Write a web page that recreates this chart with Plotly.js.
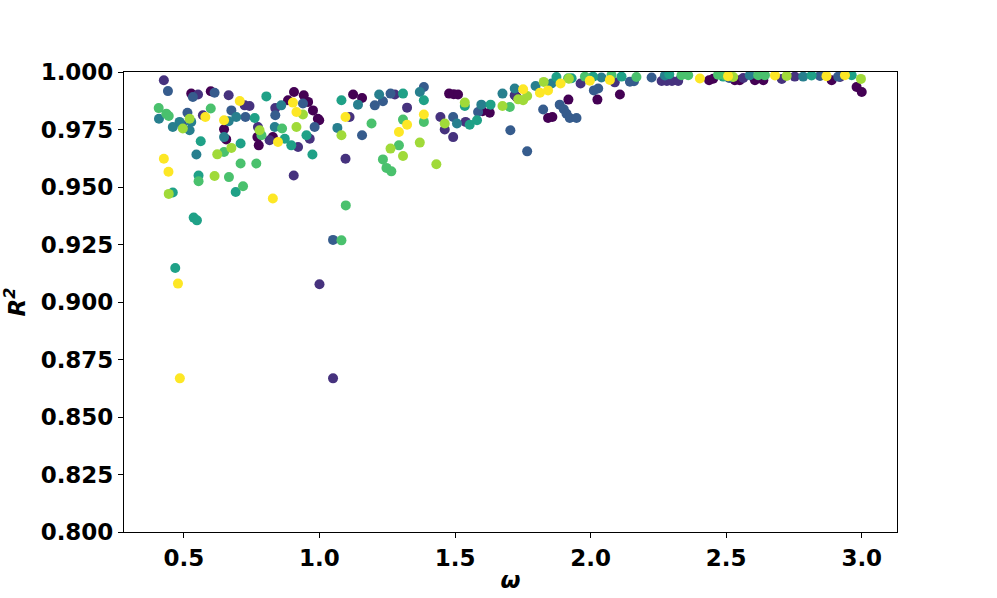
<!DOCTYPE html>
<html>
<head>
<meta charset="utf-8">
<script src="https://cdn.plot.ly/plotly-3.0.1.min.js"></script>
<style>
  html, body { margin: 0; padding: 0; background: #fff; }
  #chart { width: 997px; height: 598px; }
</style>
</head>
<body>
<div id="chart"></div>
<script>
// omega / R^2 pairs, one pair of arrays per colour group (viridis 0..7)
const omega0 = [0.527, 0.599, 0.906, 0.942, 0.884, 0.958, 0.976, 0.994, 0.999, 0.828, 0.771, 0.776, 0.648, 0.656, 1.124, 1.157, 1.478, 1.495, 1.511, 1.601, 1.628, 1.727, 1.843, 1.859, 1.918, 2.025, 2.108, 2.437, 2.452, 2.532, 2.550, 2.606, 2.637, 2.889, 2.981, 3.000];
const r2_0   = [0.9906, 0.9916, 0.9913, 0.9899, 0.9877, 0.9870, 0.9833, 0.9797, 0.9790, 0.9717, 0.9717, 0.9681, 0.9751, 0.9707, 0.9902, 0.9887, 0.9906, 0.9903, 0.9902, 0.9829, 0.9823, 0.9891, 0.9800, 0.9804, 0.9880, 0.9880, 0.9902, 0.9964, 0.9971, 0.9964, 0.9964, 0.9964, 0.9964, 0.9964, 0.9935, 0.9913];

const omega1 = [0.426, 0.552, 0.665, 0.724, 0.742, 0.964, 0.921, 0.816, 0.837, 0.773, 0.570, 0.905, 1.000, 1.050, 1.096, 1.111, 1.278, 1.323, 1.446, 1.462, 1.493, 1.539, 1.720, 1.963, 2.089, 2.262, 2.281, 2.300, 2.323, 2.563, 2.705, 2.753, 2.920];
const r2_1   = [0.9964, 0.9902, 0.9899, 0.9855, 0.9852, 0.9710, 0.9674, 0.9703, 0.9843, 0.9761, 0.9812, 0.9550, 0.9077, 0.8668, 0.9623, 0.9804, 0.9902, 0.9845, 0.9804, 0.9750, 0.9717, 0.9783, 0.9899, 0.9950, 0.9955, 0.9961, 0.9961, 0.9961, 0.9961, 0.9974, 0.9970, 0.9980, 0.9978];

const omega2 = [0.441, 0.533, 0.613, 0.939, 0.982, 0.837, 0.727, 0.675, 0.493, 0.513, 1.050, 1.157, 1.204, 1.234, 1.262, 1.385, 1.493, 1.585, 1.704, 1.766, 1.825, 1.886, 1.901, 1.911, 1.923, 1.948, 2.012, 2.028, 2.145, 2.160, 2.225, 2.511, 2.846, 2.913];
const r2_2   = [0.9917, 0.9891, 0.9910, 0.9863, 0.9761, 0.9812, 0.9804, 0.9833, 0.9771, 0.9823, 0.9270, 0.9725, 0.9855, 0.9873, 0.9906, 0.9935, 0.9804, 0.9826, 0.9747, 0.9655, 0.9837, 0.9858, 0.9838, 0.9819, 0.9800, 0.9800, 0.9920, 0.9928, 0.9958, 0.9960, 0.9976, 0.9974, 0.9983, 0.9980];

const omega3 = [0.835, 0.859, 0.693, 0.665, 0.648, 0.484, 0.459, 0.527, 0.521, 0.408, 0.546, 1.066, 1.142, 1.220, 1.370, 1.507, 1.597, 1.675, 1.720, 1.797, 1.856, 2.040, 2.274, 2.587, 2.784];
const r2_3   = [0.9761, 0.9855, 0.9804, 0.9786, 0.9717, 0.9783, 0.9761, 0.9783, 0.9747, 0.9797, 0.9641, 0.9757, 0.9858, 0.9902, 0.9913, 0.9776, 0.9858, 0.9906, 0.9928, 0.9939, 0.9950, 0.9976, 0.9985, 0.9986, 0.9980];

const omega4 = [0.804, 0.952, 0.896, 0.974, 0.872, 0.761, 0.709, 0.562, 0.554, 0.691, 0.459, 0.536, 0.548, 0.468, 1.081, 1.308, 1.385, 1.536, 1.554, 1.581, 1.631, 1.874, 1.930, 2.009, 2.114, 2.290, 2.489, 2.815, 2.963];
const r2_4   = [0.9894, 0.9725, 0.9681, 0.9641, 0.9710, 0.9800, 0.9689, 0.9699, 0.9550, 0.9478, 0.9476, 0.9367, 0.9355, 0.9148, 0.9877, 0.9906, 0.9877, 0.9852, 0.9771, 0.9790, 0.9858, 0.9978, 0.9973, 0.9980, 0.9980, 0.9990, 0.9980, 0.9985, 0.9986];

const omega5 = [0.786, 0.862, 0.599, 0.648, 0.407, 0.435, 0.444, 0.554, 0.666, 0.709, 0.767, 0.718, 1.097, 1.081, 1.192, 1.385, 1.308, 1.293, 1.234, 1.247, 1.265, 1.702, 1.917, 1.979, 2.077, 2.169, 2.335, 2.360, 2.470, 2.495, 2.618, 2.643];
const r2_5   = [0.9725, 0.9754, 0.9841, 0.9652, 0.9843, 0.9819, 0.9809, 0.9525, 0.9543, 0.9602, 0.9602, 0.9503, 0.9420, 0.9268, 0.9776, 0.9783, 0.9793, 0.9681, 0.9620, 0.9583, 0.9568, 0.9848, 0.9973, 0.9980, 0.9987, 0.9978, 0.9986, 0.9986, 0.9988, 0.9985, 0.9986, 0.9986];

const omega6 = [0.939, 0.915, 0.779, 0.675, 0.623, 0.521, 0.496, 0.613, 0.444, 1.081, 1.262, 1.308, 1.370, 1.431, 1.462, 1.536, 1.675, 1.733, 1.751, 1.766, 1.827, 1.920, 2.526, 2.723, 2.997];
const r2_6   = [0.9815, 0.9761, 0.9747, 0.9670, 0.9642, 0.9797, 0.9754, 0.9548, 0.9470, 0.9725, 0.9667, 0.9635, 0.9693, 0.9599, 0.9776, 0.9867, 0.9852, 0.9881, 0.9877, 0.9896, 0.9957, 0.9971, 0.9978, 0.9983, 0.9970];

const omega7 = [0.706, 0.902, 0.915, 0.847, 0.648, 0.579, 0.426, 0.443, 0.828, 0.478, 0.485, 1.096, 1.385, 1.323, 1.293, 1.751, 1.813, 1.843, 1.889, 1.997, 2.071, 2.403, 2.507, 2.680, 2.870, 2.938];
const r2_7   = [0.9874, 0.9867, 0.9826, 0.9696, 0.9790, 0.9804, 0.9623, 0.9566, 0.9450, 0.9080, 0.8668, 0.9804, 0.9815, 0.9771, 0.9739, 0.9925, 0.9910, 0.9920, 0.9950, 0.9962, 0.9965, 0.9972, 0.9982, 0.9985, 0.9982, 0.9986];

const groupColors = ['#440154', '#46327e', '#365c8d', '#277f8e', '#1fa187', '#4ac16d', '#a0da39', '#fde725'];
const xTicks = [0.5, 1.0, 1.5, 2.0, 2.5, 3.0];
const yTicks = [0.800, 0.825, 0.850, 0.875, 0.900, 0.925, 0.950, 0.975, 1.000];

const xs = [omega0, omega1, omega2, omega3, omega4, omega5, omega6, omega7];
const ys = [r2_0, r2_1, r2_2, r2_3, r2_4, r2_5, r2_6, r2_7];

const traces = xs.map((x, i) => ({
  type: 'scatter',
  mode: 'markers',
  x: x,
  y: ys[i],
  marker: { color: groupColors[i], size: 10, line: { width: 0 } },
  hoverinfo: 'x+y',
  showlegend: false
}));

const tickFont = { family: 'DejaVu Sans', size: 23, color: '#000', weight: 'bold' };
const titleFont = { family: 'DejaVu Sans', size: 23, weight: 'bold', style: 'italic', color: '#000' };

const axisBase = {
  showgrid: false,
  zeroline: false,
  showline: true,
  linecolor: '#000',
  linewidth: 1,
  mirror: true,
  ticks: 'outside',
  ticklen: 5,
  tickwidth: 1,
  tickcolor: '#000',
  tickfont: tickFont,
  automargin: false
};

const layout = {
  width: 997,
  height: 598,
  margin: { l: 124, r: 100, t: 72, b: 66 },
  paper_bgcolor: '#fff',
  plot_bgcolor: '#fff',
  xaxis: Object.assign({}, axisBase, {
    range: [0.279, 3.13],
    tickvals: xTicks,
    tickformat: '.1f',
    title: { text: 'ω', font: titleFont, standoff: 2 }
  }),
  yaxis: Object.assign({}, axisBase, {
    range: [0.8, 1.0],
    tickvals: yTicks,
    tickformat: '.3f',
    title: { text: 'R<sup>2</sup>', font: titleFont, standoff: 8 }
  })
};

Plotly.newPlot('chart', traces, layout, { displayModeBar: false, staticPlot: true });
</script>
</body>
</html>
